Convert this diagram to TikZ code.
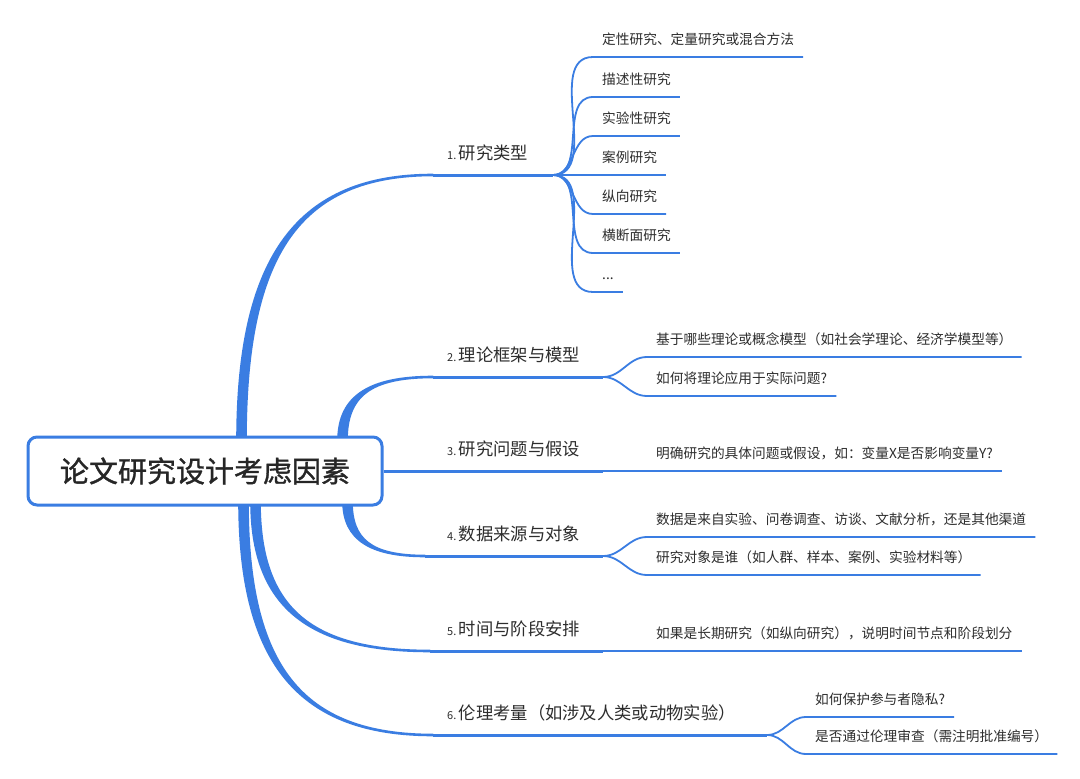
\documentclass[tikz,border=0pt]{standalone}
\usepackage{fontspec}
\setmainfont{Noto Sans CJK SC}
\newfontfamily\rootfont{Noto Sans CJK SC}[FakeBold=1.2]
\usetikzlibrary{calc,backgrounds}

\definecolor{mapblue}{RGB}{58,125,226}
\definecolor{inkgray}{RGB}{45,45,45}

\tikzset{
  rootbox/.style={draw=mapblue, line width=3pt, rounded corners=9pt, fill=white,
    minimum width=354pt, minimum height=68pt, text=black!85,
    font=\rootfont\fontsize{29pt}{30pt}\selectfont},
  branchlabel/.style={anchor=base west, inner sep=0pt, text=inkgray,
    font=\fontsize{17.3pt}{19pt}\selectfont},
  leaf/.style={anchor=south west, inner xsep=9pt, inner ysep=12.5pt, text depth=0pt,
    text=inkgray, font=\fontsize{13.7pt}{15pt}\selectfont},
  trunk/.style={draw=mapblue, line width=3pt},
  twig/.style={draw=mapblue, line width=1.8pt},
}

\newcommand{\branchno}[1]{{\fontsize{11pt}{12pt}\selectfont #1.}\kern2.5pt}

% tapered main branch from #1 (at the root box) to #2 (start of the trunk)
\newcommand{\thickbranch}[2]{%
  \path[fill=mapblue, draw=mapblue, line width=2.6pt, line join=round]
    let \p1=(#1), \p2=(#2), \p3=($(\p2)!0.3!(\p1)$), \p4=($(\p1)!0.3!(\p2)$) in
    (\x1-4pt,\y1) .. controls (\x1-4pt,\y3) and (\x4,\y2) .. (\p2)
    .. controls (\x4,\y2) and (\x1+4pt,\y3) .. (\x1+4pt,\y1) -- cycle;
}

\begin{document}
\begin{tikzpicture}[x=1pt, y=-1pt]
  \useasboundingbox (0,0) rectangle (1080,779);

  \node[rootbox] (root) at (205,471) {论文研究设计考虑因素};

  % branch labels
  \node[branchlabel] (lab1) at (447,159.5) {\branchno{1}研究类型};
  \node[branchlabel] (lab2) at (447,361.5) {\branchno{2}理论框架与模型};
  \node[branchlabel] (lab3) at (447,455.5) {\branchno{3}研究问题与假设};
  \node[branchlabel] (lab4) at (447,540.5) {\branchno{4}数据来源与对象};
  \node[branchlabel] (lab5) at (447,635.5) {\branchno{5}时间与阶段安排};
  \node[branchlabel] (lab6) at (447,719.5) {\branchno{6}伦理考量（如涉及人类或动物实验）};

  % leaves
  \node[leaf] (l11) at (593,57)  {定性研究、定量研究或混合方法};
  \node[leaf] (l12) at (593,97)  {描述性研究};
  \node[leaf] (l13) at (593,136) {实验性研究};
  \node[leaf] (l14) at (593,175) {案例研究};
  \node[leaf] (l15) at (593,214) {纵向研究};
  \node[leaf] (l16) at (593,253) {横断面研究};
  \node[leaf] (l17) at (593,292) {...};

  \node[leaf] (l21) at (647,357) {基于哪些理论或概念模型（如社会学理论、经济学模型等）};
  \node[leaf] (l22) at (647,396) {如何将理论应用于实际问题?};

  \node[leaf] (l31) at (647,471) {明确研究的具体问题或假设，如：变量X是否影响变量Y?};

  \node[leaf] (l41) at (647,537) {数据是来自实验、问卷调查、访谈、文献分析，还是其他渠道};
  \node[leaf] (l42) at (647,575) {研究对象是谁（如人群、样本、案例、实验材料等）};

  \node[leaf] (l51) at (647,651) {如果是长期研究（如纵向研究），说明时间节点和阶段划分};

  \node[leaf] (l61) at (806,717) {如何保护参与者隐私?};
  \node[leaf] (l62) at (806,754) {是否通过伦理审查（需注明批准编号）};

  % branch points
  \coordinate (s1) at ($(root.north west)+(215,5)$);
  \coordinate (s2) at ($(root.north west)+(316,5)$);
  \coordinate (s4) at ($(root.south west)+(321,-5)$);
  \coordinate (s5) at ($(root.south west)+(229,-5)$);
  \coordinate (s6) at ($(root.south west)+(217,-5)$);
  \coordinate (e1) at (433,175);
  \coordinate (e2) at (433,377);
  \coordinate (e4) at (425,556);
  \coordinate (e5) at (430,651);
  \coordinate (e6) at (433,735);
  \coordinate (j1) at (553,175);
  \coordinate (j2) at (603,377);
  \coordinate (j3) at (603,471);
  \coordinate (j4) at (603,556);
  \coordinate (j5) at (603,651);
  \coordinate (j6) at (767,735);

  \begin{pgfonlayer}{background}
    \fill[white] (0,0) rectangle (1080,779);

    \thickbranch{s1}{e1}
    \thickbranch{s2}{e2}
    \thickbranch{s4}{e4}
    \thickbranch{s5}{e5}
    \thickbranch{s6}{e6}

    \draw[trunk] (e1) -- (j1);
    \draw[trunk] (e2) -- (j2);
    \draw[trunk] (root.east) -- (j3);
    \draw[trunk] (e4) -- (j4);
    \draw[trunk] (e5) -- (j5);
    \draw[trunk] (e6) -- (j6);

    \foreach \n in {1,...,7}
      \draw[twig] (j1) to[out=0,in=180] (l1\n.south west) -- (l1\n.south east);
    \foreach \n in {1,2} {
      \draw[twig] (j2) to[out=0,in=180] (l2\n.south west) -- (l2\n.south east);
      \draw[twig] (j4) to[out=0,in=180] (l4\n.south west) -- (l4\n.south east);
      \draw[twig] (j6) to[out=0,in=180] (l6\n.south west) -- (l6\n.south east);
    }
    \draw[twig] (j3) -- (l31.south west) -- (l31.south east);
    \draw[twig] (j5) -- (l51.south west) -- (l51.south east);
  \end{pgfonlayer}
\end{tikzpicture}
\end{document}
